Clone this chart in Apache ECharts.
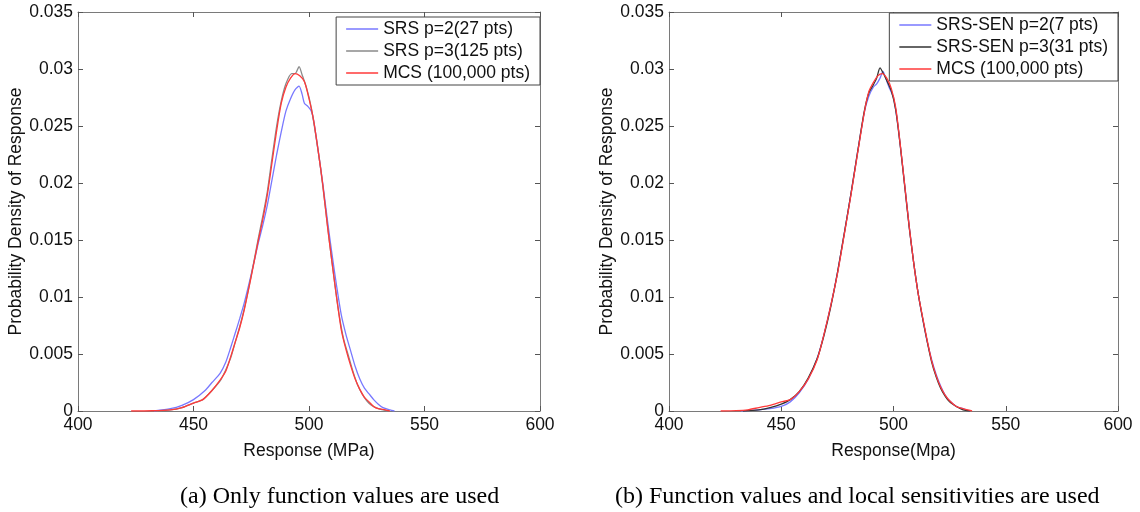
<!DOCTYPE html>
<html>
<head>
<meta charset="utf-8">
<script src="https://cdn.jsdelivr.net/npm/echarts@6/dist/echarts.min.js"></script>
<style>html,body{margin:0;padding:0;background:#fff}#c{width:1140px;height:512px}</style>
</head>
<body>
<div id="c"></div>
<script>
// ---- data ----
const xTicks = [400, 450, 500, 550, 600];
const yTicks = [0, 0.005, 0.01, 0.015, 0.02, 0.025, 0.03, 0.035];
const namesA = ['SRS p=2(27 pts)', 'SRS p=3(125 pts)', 'MCS (100,000 pts)'];
const namesB = ['SRS-SEN p=2(7 pts)', 'SRS-SEN p=3(31 pts)', 'MCS (100,000 pts)'];
const captionA = '(a) Only function values are used';
const captionB = '(b) Function values and local sensitivities are used';
const xTitleA = 'Response (MPa)';
const xTitleB = 'Response(Mpa)';
const yTitle = 'Probability Density of Response';

// (a) Only function values
const srsP2A = [[433,0],[440,0.0002],[445,0.0005],[450,0.0010],[455,0.0018],[458,0.0025],[461.5,0.0033],[464,0.0043],[466,0.0055],[468,0.0068],[470,0.0081],[472,0.0095],[475,0.0120],[478,0.0147],[480,0.0163],[482,0.0181],[484,0.0203],[486,0.0225],[488,0.0245],[490,0.0263],[492,0.0274],[494,0.0282],[495.7,0.0285],[497,0.0278],[498,0.0270],[499.6,0.0267],[501,0.0263],[502,0.0255],[504,0.0228],[506,0.0199],[508,0.0167],[510,0.0137],[512,0.0109],[514,0.0084],[516,0.0067],[518,0.0053],[520,0.0039],[522,0.0028],[524,0.0020],[526,0.0015],[528,0.0010],[530,0.0006],[532,0.0003],[535,0.0001],[537,0]];
const srsP3A = [[434,0],[440,0.0001],[445,0.0003],[450,0.0007],[454,0.0010],[458,0.0018],[462,0.0028],[466,0.0046],[468,0.0060],[470,0.0074],[472,0.0090],[475,0.0119],[478,0.0151],[480,0.0171],[482,0.0193],[484,0.0222],[486,0.0250],[488,0.0272],[490,0.0287],[492.5,0.0296],[494,0.0296],[495.7,0.0302],[497,0.0295],[499,0.0283],[501,0.0266],[503,0.0241],[505,0.0213],[507,0.0180],[509,0.0146],[511,0.0114],[513,0.0085],[515,0.0063],[517,0.0049],[519,0.0035],[521,0.0023],[523,0.0015],[525,0.0009],[527,0.0005],[530,0.0002],[534,0]];
const mcsA = [[423,0],[432,0.00002],[440,0.0001],[445,0.0003],[450,0.0007],[454,0.0010],[458,0.0018],[461.5,0.0027],[464,0.0035],[466,0.0047],[468,0.0060],[470,0.0073],[472,0.0089],[475,0.0118],[478,0.0149],[480,0.0168],[482,0.0190],[484,0.0218],[486,0.0246],[488,0.0270],[490,0.0284],[492,0.0292],[494,0.0296],[496,0.0294],[498,0.0289],[500,0.0274],[502,0.0255],[504,0.0228],[506,0.0198],[508,0.0162],[510,0.0130],[512,0.0099],[514,0.0071],[516,0.0054],[518,0.0040],[520,0.0028],[522,0.0019],[524,0.0012],[526,0.0008],[528,0.0004],[530,0.0002],[533,0.0001],[535,0]];

// (b) Function values and local sensitivities
const srsP2B = [[432,0],[440,0.0001],[445,0.0002],[450,0.0004],[454,0.0008],[458,0.0016],[462,0.0028],[466,0.0046],[469,0.0067],[472,0.0092],[475,0.0121],[478,0.0155],[481,0.0190],[484,0.0227],[487,0.0262],[489,0.0276],[491,0.0284],[492.5,0.0287],[494,0.0292],[495.3,0.0298],[496.5,0.0292],[498,0.0284],[500,0.0275],[502,0.0250],[505,0.0198],[507,0.0162],[509,0.0130],[511,0.0103],[513,0.0081],[515,0.0061],[517,0.0045],[519,0.0032],[521,0.0022],[523,0.0014],[525,0.0009],[528,0.0004],[531,0.0002],[534,0]];
const srsP3B = [[433,0],[440,0.0001],[445,0.0003],[450,0.0006],[454,0.0010],[458,0.0017],[462,0.0029],[466,0.0046],[469,0.0066],[472,0.0091],[475,0.0121],[478,0.0155],[481,0.0190],[484,0.0227],[487,0.0263],[489,0.0279],[491,0.0286],[492.5,0.0292],[494,0.0301],[495.5,0.0296],[497,0.0290],[499,0.0281],[501,0.0264],[503,0.0233],[505,0.0197],[507,0.0161],[509,0.0130],[511,0.0103],[513,0.0081],[515,0.0061],[517,0.0043],[519,0.0030],[521,0.0020],[523,0.0013],[525,0.0008],[528,0.0004],[531,0.0001],[534,0]];
const mcsB = [[423,0],[430,0.00003],[435,0.0001],[440,0.0003],[445,0.0005],[450,0.0008],[454,0.0010],[458,0.0017],[462,0.0028],[466,0.0045],[469,0.0067],[472,0.0092],[475,0.0120],[478,0.0154],[481,0.0189],[484,0.0226],[487,0.0262],[489,0.0280],[491,0.0288],[493,0.0294],[495,0.0296],[497,0.0292],[499,0.0283],[501,0.0266],[503,0.0234],[505,0.0198],[507,0.0162],[509,0.0130],[511,0.0103],[513,0.0082],[515,0.0062],[517,0.0044],[519,0.0031],[521,0.0021],[523,0.0014],[525,0.0009],[528,0.0004],[531,0.0002],[535,0]];

// ---- styles ----
const SANS = 'Liberation Sans, Arial, Helvetica, sans-serif';
const SERIF = 'Liberation Serif, Times New Roman, serif';
const FS = 17.5;
const AXIS_COLOR = '#7a7a7a';
const TEXT_COLOR = '#111';
const BLUE = '#7878ff', GRAY = '#8a8a8a', BLACK = '#333333', RED = '#ff3a3a';

const grids = [
  {left: 78, right: 600, top: 12, bottom: 101},
  {left: 669, right: 22, top: 12, bottom: 101}
];

function xAxes(gi, title) {
  const base = {
    type: 'value', gridIndex: gi, min: xTicks[0], max: xTicks[xTicks.length - 1],
    interval: xTicks[1] - xTicks[0],
    axisLine: {show: true, onZero: false, lineStyle: {color: AXIS_COLOR, width: 1}},
    axisTick: {show: true, inside: true, length: 5, lineStyle: {color: '#555', width: 1}},
    splitLine: {show: false}
  };
  return [
    Object.assign({}, base, {
      position: 'bottom',
      axisLabel: {show: true, margin: 5, fontSize: FS, color: TEXT_COLOR, fontFamily: SANS},
      name: title, nameLocation: 'middle', nameGap: 31,
      nameTextStyle: {fontSize: FS, color: TEXT_COLOR, fontFamily: SANS}
    }),
    Object.assign({}, base, {position: 'top', axisLabel: {show: false}})
  ];
}
function yAxes(gi) {
  const base = {
    type: 'value', gridIndex: gi, min: yTicks[0], max: yTicks[yTicks.length - 1],
    interval: yTicks[1] - yTicks[0],
    axisLine: {show: true, onZero: false, lineStyle: {color: AXIS_COLOR, width: 1}},
    axisTick: {show: true, inside: true, length: 5, lineStyle: {color: '#555', width: 1}},
    splitLine: {show: false}
  };
  return [
    Object.assign({}, base, {
      position: 'left',
      axisLabel: {show: true, margin: 5, fontSize: FS, color: TEXT_COLOR, fontFamily: SANS,
        formatter: v => String(+(+v).toFixed(3))},
      name: yTitle, nameLocation: 'middle', nameGap: 53,
      nameTextStyle: {fontSize: FS, color: TEXT_COLOR, fontFamily: SANS}
    }),
    Object.assign({}, base, {position: 'right', axisLabel: {show: false}})
  ];
}

function line(name, data, color, xi, yi) {
  return {
    type: 'line', name: name, data: data, xAxisIndex: xi, yAxisIndex: yi,
    symbol: 'none', showSymbol: false, smooth: 0.25, animation: false,
    lineStyle: {color: color, width: 1.3}, itemStyle: {color: color}
  };
}

function legend(names, pos) {
  return Object.assign({
    orient: 'vertical', data: names, icon: 'rect', itemWidth: 32, itemHeight: 1.5,
    itemGap: 4, padding: [3, 10, 3, 10], backgroundColor: '#fff',
    borderColor: '#444', borderWidth: 1, borderRadius: 0, selectedMode: false,
    textStyle: {fontSize: FS, color: TEXT_COLOR, fontFamily: SANS, lineHeight: 17.5},
    z: 10
  }, pos);
}

const chart = echarts.init(document.getElementById('c'), null, {renderer: 'canvas'});
chart.setOption({
  animation: false,
  backgroundColor: '#fff',
  grid: grids,
  xAxis: [...xAxes(0, xTitleA), ...xAxes(1, xTitleB)],
  yAxis: [...yAxes(0), ...yAxes(1)],
  legend: [
    legend(namesA, {right: 600, top: 17}),
    legend(namesB, {right: 22, top: 13})
  ],
  series: [
    line(namesA[0], srsP2A, BLUE, 0, 0),
    line(namesA[1], srsP3A, GRAY, 0, 0),
    line(namesA[2], mcsA, RED, 0, 0),
    line(namesB[0], srsP2B, BLUE, 2, 2),
    line(namesB[1], srsP3B, BLACK, 2, 2),
    line(namesB[2], mcsB, RED, 2, 2)
  ],
  graphic: [
    {type: 'text', left: 180, top: 485, style: {text: captionA, font: '24px ' + SERIF, fill: '#000'}},
    {type: 'text', left: 615, top: 485, style: {text: captionB, font: '24px ' + SERIF, fill: '#000'}}
  ]
});
</script>
</body>
</html>
